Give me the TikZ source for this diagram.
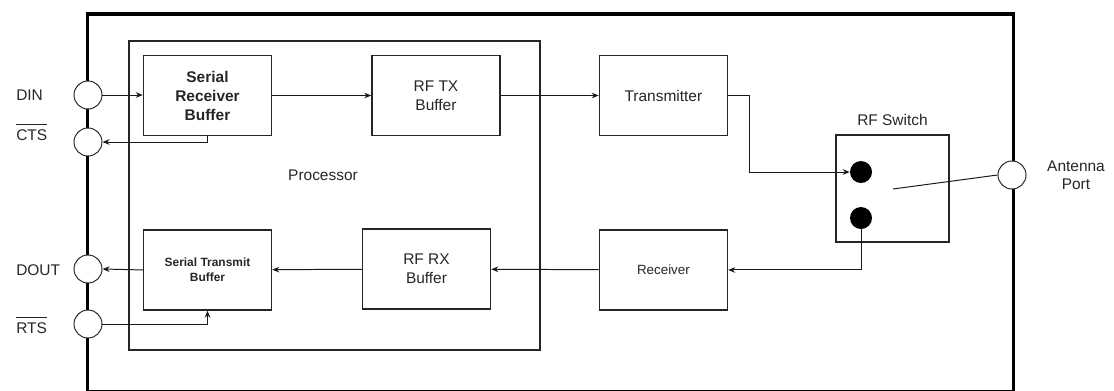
\documentclass[tikz,border=0pt]{standalone}
\usepackage{fontspec}
\setmainfont{Liberation Sans}
\usepackage{tikz}
\usetikzlibrary{arrows.meta, positioning, calc}

\newcommand{\barsig}[1]{\leavevmode\vbox{\hrule height 0.7pt\kern 3.2pt\hbox{#1}}}

\begin{document}
\begin{tikzpicture}[
    x=0.025cm, y=-0.025cm,
    % Global styles
    font=\fontsize{11}{13.5}\selectfont,
    text=black!85,
    % Box styles
    outerbox/.style={
      rectangle, draw=black, line width=2.2pt,
      minimum width=23.125cm, minimum height=9.425cm
    },
    procbox/.style={
      rectangle, draw=black!85, line width=1pt,
      minimum width=10.275cm, minimum height=7.725cm
    },
    blockbox/.style={
      rectangle, draw=black!85, line width=1pt,
      minimum width=3.2cm, minimum height=2cm,
      align=center, inner sep=1pt
    },
    portcirc/.style={
      circle, draw=black!85, fill=white, line width=0.7pt,
      minimum size=0.7cm, inner sep=0pt
    },
    contact/.style={
      circle, fill=black, minimum size=0.55cm, inner sep=0pt
    },
    siglabel/.style={anchor=west, inner sep=0pt},
    arr/.style={-{Stealth[length=5pt, width=4pt]}, line width=0.7pt, color=black!90},
    wire/.style={line width=0.7pt, color=black!90},
  ]

  \useasboundingbox (0,0) rectangle (1114,390);

  % ====================================================================
  % FRAMES
  % ====================================================================
  \node[outerbox] (module) at (550.5, 202.5) {};
  \node[procbox] (proc) at (334.5, 195.5) {};
  \node (proclabel) at (323, 175) {Processor};

  % ====================================================================
  % TOP ROW — transmit path
  % ====================================================================
  \node[blockbox, font=\fontsize{11}{13.5}\selectfont\bfseries] (srb) at (207.5, 95.5) {
    Serial\\Receiver\\Buffer
  };
  \node[blockbox, right=2.475cm of srb] (txbuf) {RF TX\\Buffer};
  \node[blockbox, right=2.45cm of txbuf] (trans) {Transmitter};

  % ====================================================================
  % BOTTOM ROW — receive path
  % ====================================================================
  \node[blockbox, below=2.325cm of srb, font=\fontsize{8.5}{11}\selectfont\bfseries] (stb) {
    Serial Transmit\\Buffer
  };
  \node[blockbox] (rxbuf) at (426.5, 269) {RF RX\\Buffer};
  \node[blockbox, below=2.325cm of trans, font=\fontsize{9.5}{11}\selectfont] (rcv) {Receiver};

  % ====================================================================
  % RF SWITCH + ANTENNA
  % ====================================================================
  \node[rectangle, draw=black!85, line width=1pt, minimum width=2.825cm, minimum height=2.675cm]
    (rfsw) at (892.5, 188.5) {};
  \node[above=0.1cm of rfsw] (rfswlabel) {RF Switch};
  \node[contact] (swtx) at (861, 172) {};
  \node[contact] (swrx) at (861, 218) {};
  \coordinate (pivot) at (893, 189);

  \node[portcirc] (ant) at (1012, 175) {};
  \node[align=center, font=\fontsize{11}{13}\selectfont] (antlabel) at (1076, 175) {Antenna\\Port};

  % ====================================================================
  % LEFT PORTS
  % ====================================================================
  \node[portcirc] (din) at (88, 95) {};
  \node[portcirc] (cts) at (88, 142) {};
  \node[portcirc] (dout) at (88, 269) {};
  \node[portcirc] (rts) at (88, 324) {};

  \node[siglabel] (dinlabel) at (16, 95) {DIN};
  \node[siglabel, anchor=base west] (ctslabel) at (16, 140) {\barsig{CTS}};
  \node[siglabel] (doutlabel) at (16, 270) {DOUT};
  \node[siglabel, anchor=base west] (rtslabel) at (16, 333) {\barsig{RTS}};

  % ------- Arrows -------
  \draw[arr] (din.east) -- (srb.west |- din);
  \draw[arr] (srb.south) |- (cts.east);
  \draw[arr] (srb) -- (txbuf);
  \draw[arr] (txbuf) -- (trans);
  \draw[arr] (trans.east) -- ++(21, 0) |- (swtx.west);

  \draw[arr] (swrx.south) |- (rcv.east);
  \draw[arr] (rcv) -- (rxbuf);
  \draw[arr] (rxbuf) -- (stb);
  \draw[arr] (stb.west) -- (dout.east);
  \draw[arr] (rts.east) -| (stb.south);

  % Switch lever
  \draw[wire] (pivot) -- (ant.west);

\end{tikzpicture}
\end{document}
